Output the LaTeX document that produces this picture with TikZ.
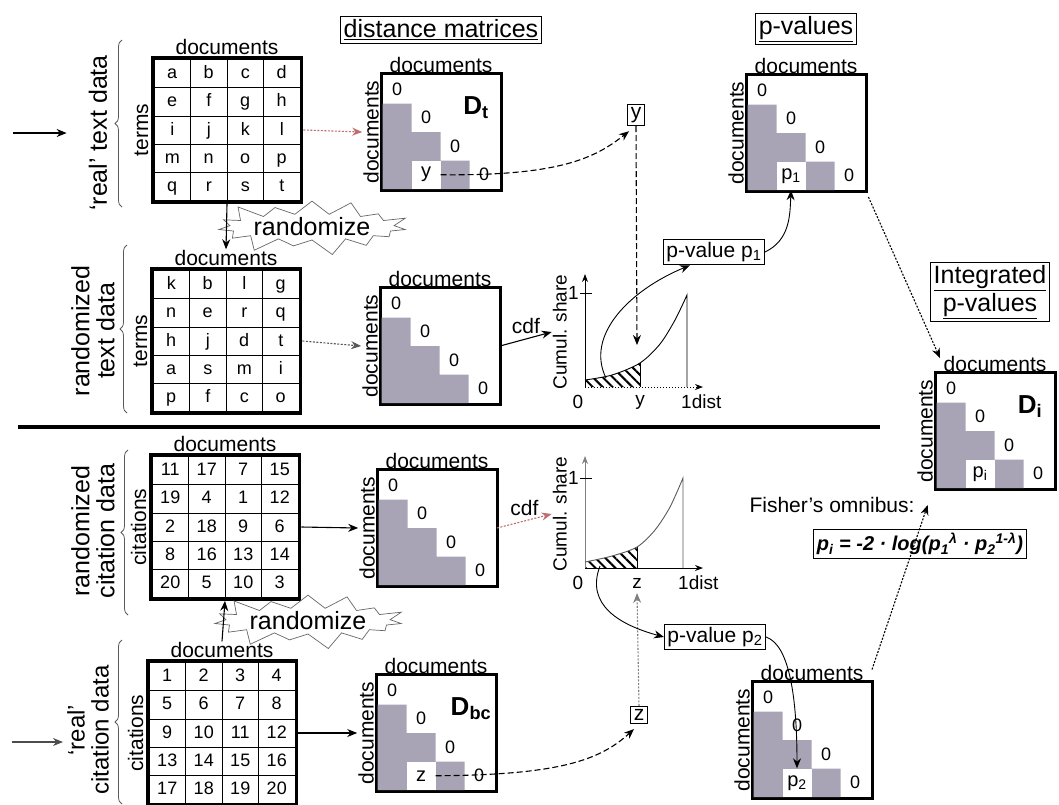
\documentclass[tikz,border=0pt]{standalone}
\usepackage{fontspec}
\setmainfont{Liberation Sans}
\usepackage{xcolor}
\usepackage{tikz}
\usetikzlibrary{arrows.meta, positioning, matrix, calc, decorations.pathreplacing, shapes.symbols, patterns.meta}

\definecolor{shadegray}{RGB}{168,164,182}
\definecolor{dotred}{RGB}{190,110,110}

\newcommand{\fsz}[1]{\fontsize{#1}{#1}\selectfont}

% distance matrix: name, x, y, cell label, corner label
\newcommand{\distmat}[5]{%
  \node[distbox] (#1) at (#2,#3) {};
  \begin{scope}[shift={(#1.north west)}]
    \fill[shadegray] (1.5,30) -| (30.5,58.5) -| (59.5,87) -| (88.5,115.5) -- (1.5,115.5) -- cycle;
    \foreach \k in {0,...,3}
      \node[zero] (#1-z\k) at (16+29*\k,15.75+28.5*\k) {0};
    \if\relax\detokenize{#4}\relax\else
      \node[labcell] (#1-cell) at (45,101.25) {#4};
    \fi
    \if\relax\detokenize{#5}\relax\else
      \node[corner] (#1-name) at (95,34) {#5};
    \fi
  \end{scope}
  \node[doclabel, above=0pt of #1] (#1-doc) {documents};
  \node[doclabel, rotate=90, anchor=south] (#1-docl) at ([xshift=-1pt]#1.west) {documents};
}

\begin{document}
\begin{tikzpicture}[x=1pt, y=-1pt,
    font=\fsz{21},
    arr/.style={-{Stealth[length=10pt,width=8pt]}, line width=1.1pt},
    dotarr/.style={arr, dash pattern=on 2pt off 1.5pt},
    dasharr/.style={arr, dash pattern=on 6pt off 3pt},
    termmat/.style={matrix of nodes, draw, line width=3pt, inner sep=1.5pt,
        column sep=-0.8pt, row sep=-0.8pt,
        nodes={draw, line width=0.8pt, minimum width=36.5pt, minimum height=28.2pt,
            inner sep=0pt, anchor=center, text height=13pt, text depth=3pt, font=\fsz{18}}},
    distbox/.style={draw, line width=3pt, minimum width=120pt, minimum height=117pt,
        inner sep=0pt, outer sep=0pt},
    zero/.style={font=\fsz{18}, inner sep=0pt},
    labcell/.style={fill=white, minimum width=29pt, minimum height=28.5pt, inner sep=0pt, font=\fsz{20}},
    corner/.style={font=\fsz{26}\bfseries, inner sep=0pt},
    doclabel/.style={font=\fsz{21}, inner sep=1pt},
    sidelabel/.style={font=\fsz{25}, align=center, inner sep=0pt, rotate=90},
    title/.style={draw, line width=1pt, font=\fsz{25}, inner sep=3pt, align=center},
    valbox/.style={draw, line width=1pt, font=\fsz{21}, inner sep=3pt},
    burst/.style={starburst, draw=gray!80!black, line width=0.7pt, font=\fsz{25},
        starburst points=15, starburst point height=18pt, inner sep=0pt},
    brace/.style={decorate, decoration={brace, amplitude=7pt}, draw=gray!70!black, line width=0.8pt},
    axis/.style={-{Stealth[length=8pt,width=6pt]}, line width=1pt},
    ticklabel/.style={font=\fsz{19}, inner sep=1pt},
    hatch/.style={pattern={Lines[angle=-45,distance=7pt,line width=2pt]}}
]
\useasboundingbox (0,0) rectangle (1059,804);

% titles
\node[title] (disttitle) at (441,30) {\underline{distance matrices}};
\node[title] (pvtitle) at (806,29) {\underline{p-values}};
\node[title] (inttitle) at (990,292) {\underline{Integrated}\\[2pt]\underline{p-values}};

% text data
\matrix[termmat] (realtext) at (227,130) {
  a & b & c & d \\
  e & f & g & h \\
  i & j & k & l \\
  m & n & o & p \\
  q & r & s & t \\
};
\node[doclabel, above=0pt of realtext] (realtext-doc) {documents};
\node[doclabel, rotate=90, anchor=south] (realtext-side) at ([xshift=-1pt]realtext.west) {terms};
\draw[brace] (122,207) -- (122,40);
\node[sidelabel] (realtext-lbl) at (98,133) {`real' text data};

\matrix[termmat] (randtext) at (226,341) {
  k & b & l & g \\
  n & e & r & q \\
  h & j & d & t \\
  a & s & m & i \\
  p & f & c & o \\
};
\node[doclabel, above=0pt of randtext] (randtext-doc) {documents};
\node[doclabel, rotate=90, anchor=south] (randtext-side) at ([xshift=-1pt]randtext.west) {terms};
\draw[brace] (127,413) -- (127,245);
\node[sidelabel] (randtext-lbl) at (93,331) {randomized\\text data};

\node[burst] (rand1) at (312,227) {randomize};

% citation data
\matrix[termmat] (randcit) at (225,527) {
  11 & 17 & 7 & 15 \\
  19 & 4 & 1 & 12 \\
  2 & 18 & 9 & 6 \\
  8 & 16 & 13 & 14 \\
  20 & 5 & 10 & 3 \\
};
\node[doclabel, above=0pt of randcit] (randcit-doc) {documents};
\node[doclabel, rotate=90, anchor=south] (randcit-side) at ([xshift=-1pt]randcit.west) {citations};
\draw[brace] (128,615) -- (128,450);
\node[sidelabel] (randcit-lbl) at (93,531) {randomized\\citation data};

\matrix[termmat] (realcit) at (222,733) {
  1 & 2 & 3 & 4 \\
  5 & 6 & 7 & 8 \\
  9 & 10 & 11 & 12 \\
  13 & 14 & 15 & 16 \\
  17 & 18 & 19 & 20 \\
};
\node[doclabel, above=0pt of realcit] (realcit-doc) {documents};
\node[doclabel, rotate=90, anchor=south] (realcit-side) at ([xshift=-1pt]realcit.west) {citations};
\draw[brace] (122,804) -- (122,640);
\node[sidelabel, font=\fsz{24}] (realcit-lbl) at (88,730) {`real'\\citation data};

\node[burst] (rand2) at (308,621) {randomize};

% distance and p-value matrices
\distmat{dt}{441}{132}{y}{D\textsubscript{t}}
\distmat{drt}{440}{346}{}{}
\distmat{pv1}{806}{133}{p\textsubscript{1}}{}
\distmat{di}{995}{431}{p\textsubscript{i}}{D\textsubscript{i}}
\distmat{drc}{437}{528}{}{}
\distmat{dbc}{436}{733}{z}{D\textsubscript{bc}}
\distmat{pv2}{812}{740}{p\textsubscript{2}}{}

% values
\node[valbox] (ybox) at (636,115) {y};
\node[valbox] (zbox) at (639,715) {z};
\node[valbox] (pv1box) at (714,252) {p-value p\textsubscript{1}};
\node[valbox] (pv2box) at (715,637) {p-value p\textsubscript{2}};
\node[inner sep=0pt] (fisher) at (832,505) {Fisher's omnibus:};
\node[valbox, font=\fsz{20}\bfseries\itshape] (formula) at (920,544)
  {p\textsubscript{i} = -2 · log(p\textsubscript{1}\textsuperscript{λ} · p\textsubscript{2}\textsuperscript{1-λ})};

% cdf plots
\begin{scope}
  \clip (585,300) rectangle (640,387);
  \fill[hatch] (585,387) -- plot[smooth] coordinates {(585,380) (612,375) (640,363) (660,344) (675,320) (687,295)} -- (687,387) -- cycle;
\end{scope}
\draw[line width=1pt] (640,363) -- (640,387);
\draw[axis] (585,387) -- (585,274);
\draw[axis, dotted] (585,387) -- (703,387);
\draw[line width=1pt] (580,293) -- (592,293);
\draw[line width=0.9pt] plot[smooth] coordinates {(585,380) (612,375) (640,363) (660,344) (675,320) (687,295)} -- (687,387);
\node[ticklabel, left] (one1) at (580,293) {1};
\node[ticklabel] (zero1) at (578,402) {0};
\node[ticklabel] (y1) at (640,402) {y};
\node[ticklabel, anchor=west] (dist1) at (680,402) {1dist};
\node[ticklabel, rotate=90, anchor=south] (cum1) at (568,332) {Cumul. share};
\coordinate (h1) at (606,378);
\coordinate (yhit) at (637,345);

\begin{scope}
  \clip (585,480) rectangle (637,568);
  \fill[hatch] (585,568) -- plot[smooth] coordinates {(585,562) (612,556) (637,547) (655,530) (670,507) (683,478)} -- (683,568) -- cycle;
\end{scope}
\draw[line width=1pt] (637,547) -- (637,568);
\draw[axis, gray] (585,568) -- (585,456);
\draw[axis] (585,568) -- (703,568);
\draw[line width=1pt] (580,478) -- (592,478);
\draw[line width=0.9pt, gray!70!black] plot[smooth] coordinates {(585,562) (612,556) (637,547) (655,530) (670,507) (683,478)} -- (683,568);
\node[ticklabel, left] (one2) at (580,478) {1};
\node[ticklabel] (zero2) at (578,583) {0};
\node[ticklabel] (z2) at (637,583) {z};
\node[ticklabel, anchor=west] (dist2) at (677,583) {1dist};
\node[ticklabel, rotate=90, anchor=south] (cum2) at (568,514) {Cumul. share};
\coordinate (h2) at (600,566);
\coordinate (zhit) at (637,593);

% separator
\draw[line width=3.5pt] (18,427) -- (880,427);

% connectors
\coordinate (textin) at (13,133);
\coordinate (citin) at (12,742);
\draw[arr] (textin) -- ([xshift=-22pt]realtext-lbl.north);
\draw[arr, gray!60!black] (citin) -- ([xshift=-4pt]realcit-lbl.north |- citin);
\draw[dotarr, dotred] (realtext.east) -- (dt-docl.north);
\draw[dotarr, gray!70!black] (randtext.east) -- (drt-docl.north);
\draw[arr] (randcit.east) -- (drc-docl.north);
\draw[arr] (realcit.east) -- (dbc-docl.north);
\draw[arr] (realtext.south) -- (randtext-doc.north);
\draw[arr] (realcit-doc.north) -- (randcit.south);
\draw[arr] (drt.east) -- node[above=1pt] (cdf1lbl) {cdf} (cum1.north);
\draw[dotarr, dotred] (drc.east) -- node[above=1pt, text=black] (cdf2lbl) {cdf} (cum2.north);
\draw[dasharr] (dt-cell.east) .. controls (560,176) and (595,158) .. ([shift={(-7,5)}]ybox.south);
\draw[dasharr] (ybox.south) -- (yhit);
\draw[arr, line width=0.9pt] (h1) .. controls (585,335) and (630,290) .. ([xshift=27pt]pv1box.south west);
\draw[arr, line width=0.9pt] (pv1box.east) .. controls (790,240) and (790,215) .. (pv1-cell.south);
\draw[dotarr, shorten <=6pt, shorten >=6pt] (pv1.south east) -- (di-doc.west);
\draw[dasharr] (dbc-cell.east) .. controls (560,775) and (600,760) .. ([shift={(-5,5)}]zbox.south);
\draw[dotarr, gray] (zbox.north) -- (zhit);
\draw[arr, line width=0.9pt] (h2) .. controls (585,605) and (620,625) .. (pv2box.west);
\draw[arr, line width=0.9pt] (pv2box.east) .. controls (790,645) and (797,700) .. (pv2-cell.north);
\draw[dotarr] ([yshift=12pt]pv2.north east) -- ([xshift=13pt]fisher.east);

\end{tikzpicture}
\end{document}
